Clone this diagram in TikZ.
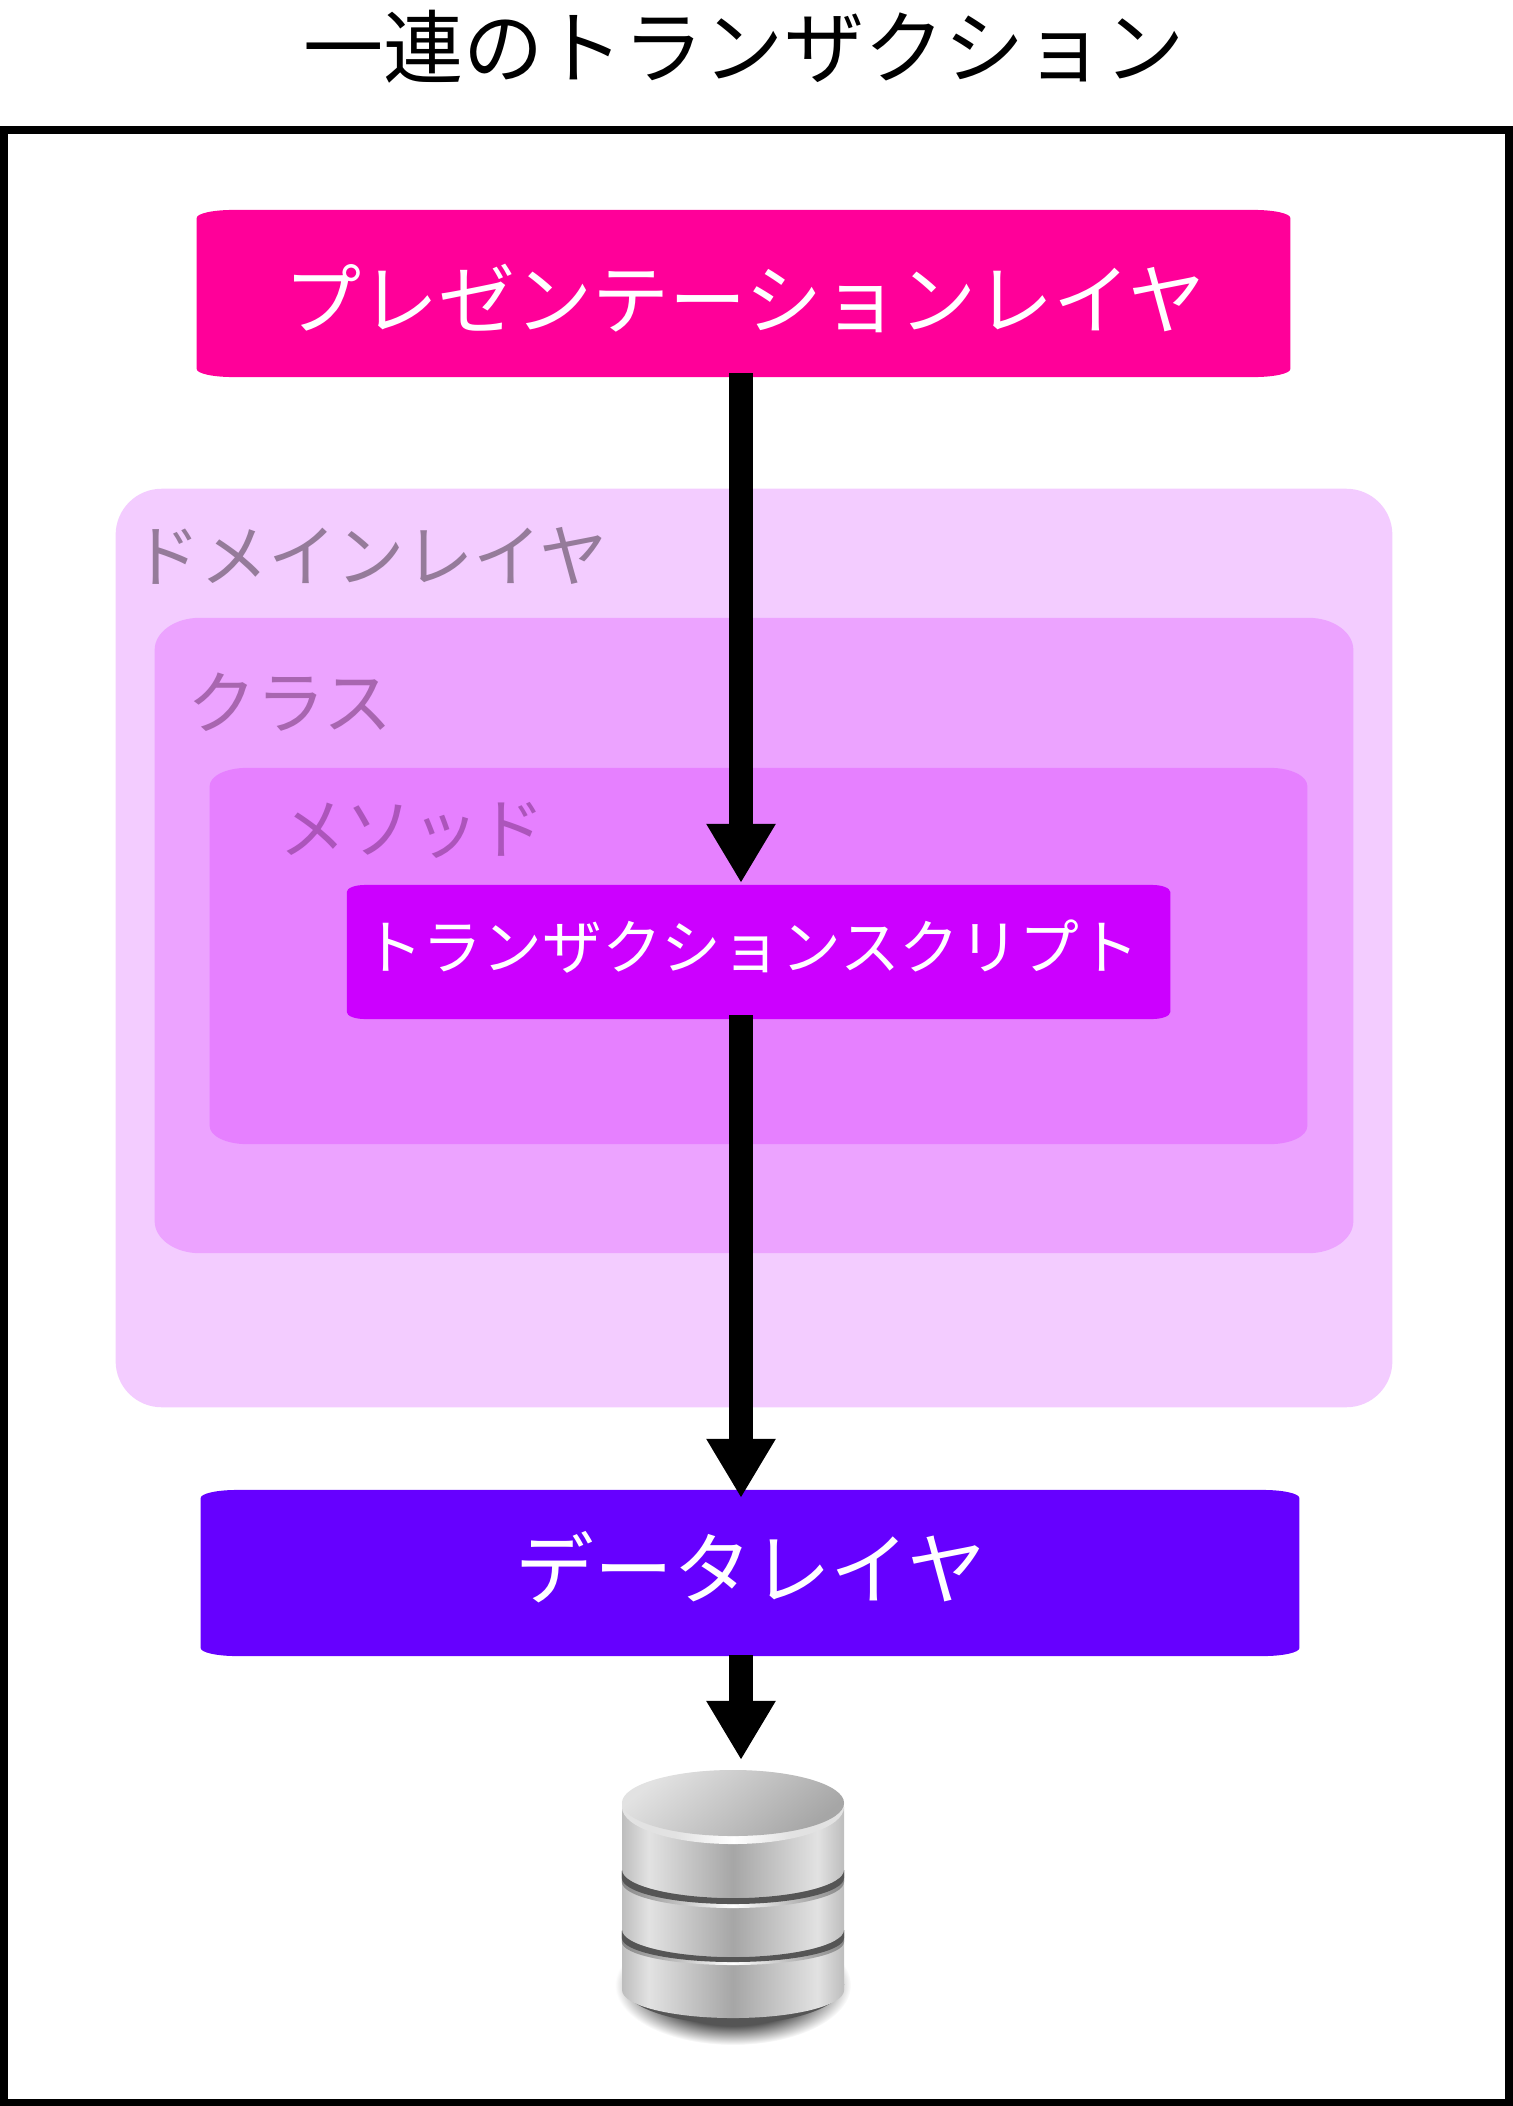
\documentclass[tikz,border=0pt]{standalone}
\usepackage{fontspec}
\setmainfont{Noto Sans CJK JP}
\usepackage{xcolor}
\usepackage{tikz}
\usetikzlibrary{arrows.meta,backgrounds}
\definecolor{LayerPink}{HTML}{FF0099}
\definecolor{LayerViolet}{HTML}{6600FF}
\definecolor{DomainTint}{HTML}{F3CCFF}
\definecolor{ClassTint}{HTML}{ECA3FF}
\definecolor{MethodTint}{HTML}{E680FF}
\definecolor{ScriptPurple}{HTML}{CC00FF}
\definecolor{DomainInk}{HTML}{957B9A}
\definecolor{ClassInk}{HTML}{A866B0}
\definecolor{MethodInk}{HTML}{AC55BB}
\definecolor{DbDark}{HTML}{555555}
\definecolor{DbEdge}{HTML}{BDBDBD}
\definecolor{DbLight}{HTML}{E2E2E2}
\definecolor{DbMid}{HTML}{A6A6A6}
\pgfdeclarehorizontalshading{dbside}{100bp}{color(0bp)=(DbEdge); color(25bp)=(DbEdge); color(31bp)=(DbLight); color(50bp)=(DbMid); color(69bp)=(DbLight); color(75bp)=(DbEdge); color(100bp)=(DbEdge)}
\pgfdeclarehorizontalshading{dbrim}{100bp}{color(0bp)=(DbDark!70); color(25bp)=(DbDark!70); color(37bp)=(DbEdge); color(50bp)=(white); color(63bp)=(DbEdge); color(75bp)=(DbDark!70); color(100bp)=(DbDark!70)}
\pgfdeclarehorizontalshading{dbcap}{100bp}{color(0bp)=(DbLight); color(37bp)=(DbLight); color(50bp)=(white); color(63bp)=(DbLight); color(100bp)=(DbLight)}
\pgfdeclareradialshading{dbshadow}{\pgfpointorigin}{color(0bp)=(DbDark); color(17bp)=(DbDark); color(25bp)=(white); color(50bp)=(white)}
\newcommand{\softfill}[4]{%
  \fill[#4] ([yshift=-#3]#1.north west) arc[start angle=180,end angle=90,x radius=#2,y radius=#3]
    -- ([xshift=-#2]#1.north east) arc[start angle=90,end angle=0,x radius=#2,y radius=#3]
    -- ([yshift=#3]#1.south east) arc[start angle=0,end angle=-90,x radius=#2,y radius=#3]
    -- ([xshift=#2]#1.south west) arc[start angle=-90,end angle=-180,x radius=#2,y radius=#3] -- cycle;}
\tikzset{
  plate/.style={inner sep=0pt,outer sep=0pt},
  flow/.style={-{Triangle[width=0.65cm,length=0.59cm]},line width=0.24cm},
  jptext/.style={inner sep=0pt,font=\fontsize{#1}{#1}\selectfont}
}
\begin{document}
\begin{tikzpicture}[x=0.01cm,y=-0.01cm]
  \useasboundingbox (0,0) rectangle (1513,2106);
  \node[jptext=22.8pt] (title) at (744,47) {一連のトランザクション};
  \node[plate,draw=black,line width=0.08cm,minimum width=15.05cm,minimum height=19.71cm] (frame) at (756.5,1116.5) {};
  \node[plate,minimum width=10.93cm,minimum height=1.67cm] (present) at (743.5,293.5) {};
  \node[plate,minimum width=12.76cm,minimum height=9.18cm] (domain) at (754,948) {};
  \node[plate,minimum width=11.98cm,minimum height=6.35cm] (class) at (754,935.5) {};
  \node[plate,minimum width=10.97cm,minimum height=3.76cm] (method) at (758.5,956) {};
  \node[plate,minimum width=8.23cm,minimum height=1.34cm] (script) at (758.5,952) {};
  \node[plate,minimum width=10.98cm,minimum height=1.66cm] (data) at (750,1573) {};
  \node[jptext=21.9pt,text=white] (presentlabel) at (745,298) {プレゼンテーションレイヤ};
  \node[jptext=19.4pt,text=DomainInk] (domainlabel) at (370,556) {ドメインレイヤ};
  \node[jptext=19.6pt,text=ClassInk] (classlabel) at (290,702) {クラス};
  \node[jptext=18.9pt,text=MethodInk] (methodlabel) at (412,830) {メソッド};
  \node[jptext=17pt,text=white] (scriptlabel) at (751,947) {トランザクションスクリプト};
  \node[jptext=22.4pt,text=white] (datalabel) at (751,1567) {データレイヤ};
  \begin{pgfonlayer}{background}
    \softfill{present}{0.36cm}{0.08cm}{LayerPink}
    \softfill{domain}{0.46cm}{0.46cm}{DomainTint}
    \softfill{class}{0.45cm}{0.32cm}{ClassTint}
    \softfill{method}{0.37cm}{0.18cm}{MethodTint}
    \softfill{script}{0.18cm}{0.07cm}{ScriptPurple}
    \softfill{data}{0.36cm}{0.08cm}{LayerViolet}
  \end{pgfonlayer}
  \coordinate (axis) at (741,0);
  \coordinate (dbtop) at (741,1760);
  \draw[flow,shorten <=-0.04cm,shorten >=0.02cm] (present.south -| axis) -- (script.north -| axis);
  \draw[flow,shorten <=-0.04cm,shorten >=-0.08cm] (script.south -| axis) -- (data.north -| axis);
  \draw[flow,shorten <=-0.01cm] (data.south -| axis) -- (dbtop);
  \shade[shading=dbshadow] (733,1985) ellipse [x radius=1.18cm,y radius=0.60cm];
  \fill[DbDark] (622,1984) arc[start angle=180,end angle=360,x radius=1.11cm,y radius=0.40cm] -- cycle;
  \shade[shading=dbside] (622,1807) -- (622,1990) arc[start angle=180,end angle=360,x radius=1.11cm,y radius=0.28cm] -- (844,1807) -- cycle;
  \shade[shading=dbrim] (622,1870) arc[start angle=180,end angle=360,x radius=1.11cm,y radius=0.28cm] -- (844,1882) arc[start angle=0,end angle=-180,x radius=1.11cm,y radius=0.26cm] -- cycle;
  \fill[DbDark] (622,1870) arc[start angle=180,end angle=360,x radius=1.11cm,y radius=0.28cm] -- (844,1878) arc[start angle=0,end angle=-180,x radius=1.11cm,y radius=0.26cm] -- cycle;
  \shade[shading=dbrim] (622,1930) arc[start angle=180,end angle=360,x radius=1.11cm,y radius=0.27cm] -- (844,1942) arc[start angle=0,end angle=-180,x radius=1.11cm,y radius=0.23cm] -- cycle;
  \fill[DbDark] (622,1930) arc[start angle=180,end angle=360,x radius=1.11cm,y radius=0.27cm] -- (844,1938) arc[start angle=0,end angle=-180,x radius=1.11cm,y radius=0.24cm] -- cycle;
  \shade[shading=dbcap] (733,1807) ellipse [x radius=1.11cm,y radius=0.37cm];
  \shade[top color=DbLight,bottom color=DbMid,shading angle=40] (733,1803) ellipse [x radius=1.11cm,y radius=0.33cm];
\end{tikzpicture}
\end{document}
